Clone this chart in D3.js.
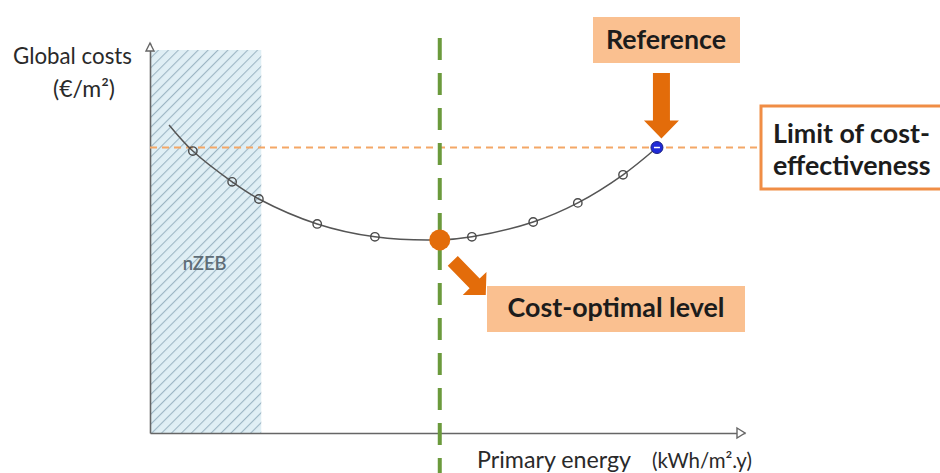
<!DOCTYPE html>
<html>
<head>
<meta charset="utf-8">
<script src="https://cdn.jsdelivr.net/npm/d3@7"></script>
<style>
  html, body { margin: 0; padding: 0; background: #fff; }
  svg { display: block; }
</style>
</head>
<body>
<svg id="chart" width="940" height="473"></svg>
<script>
// ---- data (abstract units: energy 0..100, cost 0..100) ----
const curveEnergy = [3.2, 7.2, 13.8, 18.3, 28.1, 37.8, 48.7, 54.1, 64.4, 71.9, 79.5, 85.2];
const curveCost   = [79.0, 72.3, 64.4, 60.0, 53.6, 50.3, 49.5, 50.3, 54.1, 59.0, 66.2, 73.2];
const optimalIndex = 6;
const referenceIndex = 11;
const nzebRange = [0, 18.7];          // energy range of nZEB zone
const nzebTop = 98.2;                 // cost height of nZEB zone
const limitCost = 73.2;               // limit of cost-effectiveness
const limitExtent = [0, 103.4];
const optimalLineExtent = [101.3, -10.3];
const labels = {
  yTitle: "Global costs", yUnit: "(€/m²)",
  xTitle: "Primary energy", xUnit: "(kWh/m².y)",
  zone: "nZEB", reference: "Reference", optimal: "Cost-optimal level",
  limit: ["Limit of cost-", "effectiveness"]
};

const svg = d3.select("#chart");
const x = d3.scaleLinear().domain([0, 100]).range([150, 745]);
const y = d3.scaleLinear().domain([0, 100]).range([433, 43]);

const ORANGE = "#e36c0a", PEACH = "#fac090", LIGHTOR = "#f4a767";

// hatch pattern
const defs = svg.append("defs");
const pat = defs.append("pattern").attr("id", "hatch").attr("patternUnits", "userSpaceOnUse")
  .attr("width", 7).attr("height", 7).attr("patternTransform", "rotate(45)");
pat.append("rect").attr("width", 7).attr("height", 7).attr("fill", "#e0eff5");
pat.append("line").attr("x1", 0).attr("y1", 0).attr("x2", 0).attr("y2", 7)
  .attr("stroke", "#9db6c4").attr("stroke-width", 2.2);

// nZEB zone
svg.append("rect")
  .attr("x", x(nzebRange[0])).attr("y", y(nzebTop))
  .attr("width", x(nzebRange[1]) - x(nzebRange[0])).attr("height", y(0) - y(nzebTop))
  .attr("fill", "url(#hatch)");

// fit text helper
function fit(t, w) {
  const l = t.node().getComputedTextLength();
  const fs = parseFloat(t.attr("font-size"));
  t.attr("font-size", (fs * w / l).toFixed(2));
  return t;
}

fit(svg.append("text").attr("x", x((nzebRange[0] + nzebRange[1]) / 2) - 1).attr("y", 270)
  .attr("text-anchor", "middle").attr("font-family", "Lato, sans-serif").attr("font-size", 14)
  .attr("font-weight", 600).attr("fill", "#5f6d77").text(labels.zone), 44);

// axes
const xAxis = d3.axisBottom(x).tickValues([]).tickSizeOuter(0);
const yAxis = d3.axisLeft(y).tickValues([]).tickSizeOuter(0);
const gx = svg.append("g").attr("transform", `translate(0,${y(0)})`).call(xAxis);
const gy = svg.append("g").attr("transform", `translate(${x(0)},0)`).call(yAxis);
[gx, gy].forEach(g => g.select(".domain").attr("stroke", "#666").attr("stroke-width", 1.6));
// open arrowheads
svg.append("path").attr("d", `M${x(100)-8},${y(0)-5} L${x(100)},${y(0)} L${x(100)-8},${y(0)+5} Z`)
  .attr("fill", "#fff").attr("stroke", "#666").attr("stroke-width", 1.4);
svg.append("path").attr("d", `M${x(0)-4},${y(100)+8} L${x(0)},${y(100)} L${x(0)+4},${y(100)+8} Z`)
  .attr("fill", "#fff").attr("stroke", "#666").attr("stroke-width", 1.4);

// limit line
svg.append("line")
  .attr("x1", x(limitExtent[0])).attr("x2", x(limitExtent[1]))
  .attr("y1", y(limitCost)).attr("y2", y(limitCost))
  .attr("stroke", LIGHTOR).attr("stroke-width", 2).attr("stroke-dasharray", "7,5");

// optimal vertical line
svg.append("line")
  .attr("x1", x(curveEnergy[optimalIndex])).attr("x2", x(curveEnergy[optimalIndex]))
  .attr("y1", y(optimalLineExtent[0])).attr("y2", y(optimalLineExtent[1]))
  .attr("stroke", "#6b9a3c").attr("stroke-width", 4).attr("stroke-dasharray", "22,13");

// curve
const pts = curveEnergy.map((e, i) => [e, curveCost[i]]);
const line = d3.line().x(d => x(d[0])).y(d => y(d[1])).curve(d3.curveCatmullRom.alpha(0.5));
svg.append("path").datum(pts).attr("d", line).attr("fill", "none")
  .attr("stroke", "#555").attr("stroke-width", 1.5);

// markers
svg.selectAll("circle.m").data(pts.filter((d, i) => i > 0 && i !== optimalIndex && i !== referenceIndex))
  .join("circle").attr("class", "m")
  .attr("cx", d => x(d[0])).attr("cy", d => y(d[1])).attr("r", 4.2)
  .attr("fill", "none").attr("stroke", "#4a4a4a").attr("stroke-width", 1.4);

// optimal point
const po = pts[optimalIndex];
svg.append("circle").attr("cx", x(po[0])).attr("cy", y(po[1])).attr("r", 10.5).attr("fill", ORANGE);

// reference point
const pr = pts[referenceIndex];
svg.append("circle").attr("cx", x(pr[0])).attr("cy", y(pr[1])).attr("r", 6)
  .attr("fill", "#1f2ad8").attr("stroke", "#1a1f80").attr("stroke-width", 1);
svg.append("line").attr("x1", x(pr[0]) - 3).attr("x2", x(pr[0]) + 3)
  .attr("y1", y(pr[1])).attr("y2", y(pr[1])).attr("stroke", "#fff").attr("stroke-width", 1.5);

// arrows
function arrowPath(x1, y1, x2, y2, sw, hw, hl) {
  const dx = x2 - x1, dy = y2 - y1, L = Math.hypot(dx, dy);
  const ux = dx / L, uy = dy / L, px = -uy, py = ux;
  const bx = x2 - ux * hl, by = y2 - uy * hl;
  const P = [
    [x1 + px * sw / 2, y1 + py * sw / 2], [bx + px * sw / 2, by + py * sw / 2],
    [bx + px * hw / 2, by + py * hw / 2], [x2, y2],
    [bx - px * hw / 2, by - py * hw / 2], [bx - px * sw / 2, by - py * sw / 2],
    [x1 - px * sw / 2, y1 - py * sw / 2]
  ];
  return "M" + P.map(p => p.join(",")).join("L") + "Z";
}
svg.append("path").attr("d", arrowPath(x(pr[0]) + 4.5, 73, x(pr[0]) + 4.5, y(pr[1]) - 9, 17, 35, 18)).attr("fill", ORANGE);
svg.append("path").attr("d", arrowPath(x(po[0]) + 13, y(po[1]) + 21, x(po[0]) + 46, y(po[1]) + 55, 14, 33, 16)).attr("fill", ORANGE);

// Reference box
svg.append("rect").attr("x", 593).attr("y", 17).attr("width", 147).attr("height", 46).attr("fill", PEACH);
fit(svg.append("text").attr("x", 666).attr("y", 49).attr("text-anchor", "middle")
  .attr("font-family", "Lato, sans-serif").attr("font-weight", "bold").attr("font-size", 20)
  .attr("fill", "#1c1c1c").text(labels.reference), 120);

// Cost-optimal box
svg.append("rect").attr("x", 487).attr("y", 286).attr("width", 258).attr("height", 46).attr("fill", PEACH);
fit(svg.append("text").attr("x", 616).attr("y", 317).attr("text-anchor", "middle")
  .attr("font-family", "Lato, sans-serif").attr("font-weight", "bold").attr("font-size", 20)
  .attr("fill", "#1c1c1c").text(labels.optimal), 217);

// Limit box
svg.append("rect").attr("x", 761).attr("y", 106).attr("width", 200).attr("height", 83)
  .attr("fill", "#fff").attr("stroke", "#f08d45").attr("stroke-width", 3);
const lt1 = fit(svg.append("text").attr("x", 773).attr("y", 143)
  .attr("font-family", "Lato, sans-serif").attr("font-weight", "bold").attr("font-size", 20)
  .attr("fill", "#1c1c1c").text(labels.limit[0]), 157);
svg.append("text").attr("x", 773).attr("y", 175)
  .attr("font-family", "Lato, sans-serif").attr("font-weight", "bold").attr("font-size", lt1.attr("font-size"))
  .attr("fill", "#1c1c1c").text(labels.limit[1]);

// axis titles
fit(svg.append("text").attr("x", 13).attr("y", 64).attr("font-family", "Lato, sans-serif")
  .attr("font-size", 16).attr("fill", "#2a2a2a").text(labels.yTitle), 119);
fit(svg.append("text").attr("x", 53).attr("y", 97).attr("font-family", "Lato, sans-serif")
  .attr("font-size", 14).attr("fill", "#2a2a2a").text(labels.yUnit), 62);
fit(svg.append("text").attr("x", 477).attr("y", 468).attr("font-family", "Lato, sans-serif")
  .attr("font-size", 17).attr("fill", "#2a2a2a").text(labels.xTitle), 154);
fit(svg.append("text").attr("x", 652).attr("y", 468).attr("font-family", "Lato, sans-serif")
  .attr("font-size", 14).attr("fill", "#2a2a2a").text(labels.xUnit), 100);
</script>
</body>
</html>
